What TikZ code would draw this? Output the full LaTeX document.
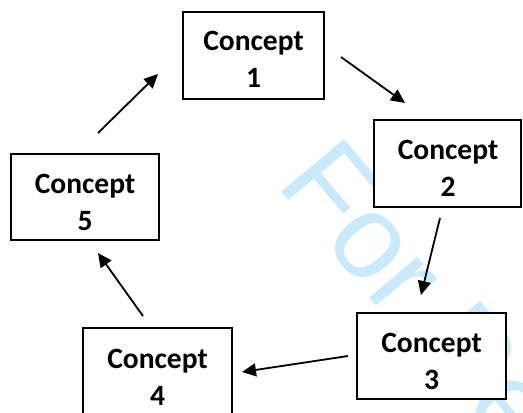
\documentclass[tikz,border=0pt]{standalone}
\usepackage{fontspec}
\setmainfont{Carlito}
\newfontfamily\markfont{Liberation Sans}
\usetikzlibrary{arrows.meta}
\definecolor{markblue}{RGB}{200,234,250}
\tikzset{
  conceptbox/.style={draw=black, fill=white, line width=1.4pt, inner sep=0pt},
  conceptlabel/.style={align=center, inner sep=0pt,
    font=\bfseries\fontsize{29.5}{37}\selectfont},
  flow/.style={line width=1.8pt, -{Triangle[length=14pt,width=13pt]}},
}
\begin{document}
\begin{tikzpicture}[x=1pt, y=-1pt]
\clip (0,0) rectangle (523,413);
\fill[white] (0,0) rectangle (523,413);

% faint review stamp running diagonally behind the boxes
\node[markblue, anchor=base west, rotate=-50, inner sep=0pt,
      font=\markfont\fontsize{119}{119}\selectfont] (stamp) at (275.5,184.5) {For Peer Review};

% concept boxes
\node[conceptbox, minimum width=141pt, minimum height=87pt] (c1) at (253.5,55.5) {};
\node[conceptbox, minimum width=147pt, minimum height=87pt] (c2) at (447.5,163.5) {};
\node[conceptbox, minimum width=149pt, minimum height=86pt] (c3) at (431.5,356) {};
\node[conceptbox, minimum width=149pt, minimum height=87pt] (c4) at (157.5,371.5) {};
\node[conceptbox, minimum width=148pt, minimum height=86pt] (c5) at (85,197) {};

\node[conceptlabel] (l1) at (253.5,59) {Concept\\1};
\node[conceptlabel] (l2) at (448,168) {Concept\\2};
\node[conceptlabel] (l3) at (431.5,361) {Concept\\3};
\node[conceptlabel] (l4) at (157.5,377) {Concept\\4};
\node[conceptlabel] (l5) at (85,202) {Concept\\5};

% arrow ends in the gaps between the boxes
\coordinate (s12) at (341,57);  \coordinate (e12) at (405,103);
\coordinate (s23) at (440,218); \coordinate (e23) at (421,295);
\coordinate (s34) at (348,356); \coordinate (e34) at (242,372);
\coordinate (s45) at (143,316); \coordinate (e45) at (98,253);
\coordinate (s51) at (98,133);  \coordinate (e51) at (158,74);

\draw[flow] (s12) -- (e12);
\draw[flow] (s23) -- (e23);
\draw[flow] (s34) -- (e34);
\draw[flow] (s45) -- (e45);
\draw[flow] (s51) -- (e51);
\end{tikzpicture}
\end{document}
